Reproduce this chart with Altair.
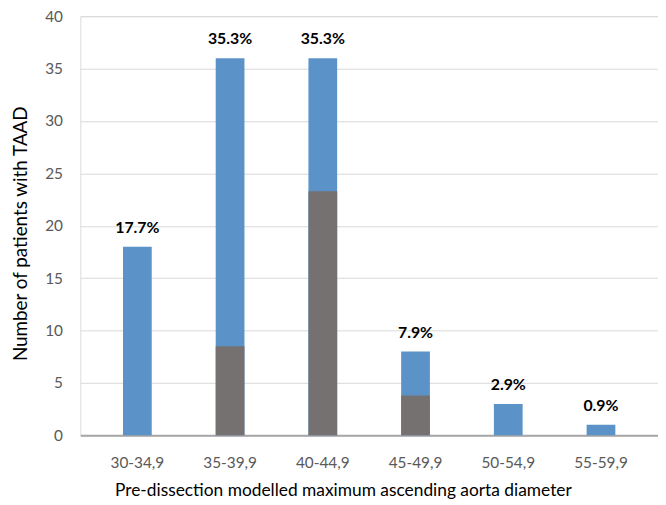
import altair as alt
import pandas as pd

categories = ["30-34,9", "35-39,9", "40-44,9", "45-49,9", "50-54,9", "55-59,9"]
totals = [18, 36, 36, 8, 3, 1]
subset = [0, 8.5, 23.3, 3.8, 0, 0]
labels = ["17.7%", "35.3%", "35.3%", "7.9%", "2.9%", "0.9%"]

df = pd.DataFrame({"cat": categories, "total": totals, "subset": subset, "label": labels})

FONT = "Lato"
xenc = alt.X("cat:N", sort=categories,
             scale=alt.Scale(paddingInner=0.69, paddingOuter=0.46),
             axis=alt.Axis(title="Pre-dissection modelled  maximum ascending aorta diameter",
                           labelAngle=0, labelFontSize=15.5, labelColor="#595959", labelFont=FONT,
                           labelPadding=20, ticks=False, domainColor="#a6a6a6", domainWidth=2,
                           titleFont=FONT, titleFontSize=17.5, titleFontWeight="normal",
                           titleColor="#000000", titlePadding=11, titleX=265))
yscale = alt.Scale(domain=[0, 40])

base = alt.Chart(df)
blue = base.mark_bar(color="#5b93c8").encode(
    x=xenc,
    y=alt.Y("total:Q", scale=yscale,
            axis=alt.Axis(title="Number of patients with TAAD", values=[0, 5, 10, 15, 20, 25, 30, 35, 40],
                          labelFontSize=15.5, labelColor="#595959", labelFont=FONT, labelPadding=18,
                          ticks=False, domain=False, gridColor="#d9d9d9", gridWidth=1,
                          titleFont=FONT, titleFontSize=19, titleFontWeight="normal",
                          titleColor="#000000", titlePadding=14, titleY=219)))
gray = base.mark_bar(color="#767171").encode(x=xenc, y=alt.Y("subset:Q", scale=yscale))
text = base.mark_text(fontWeight="bold", fontSize=16, font=FONT, color="#000000",
                      baseline="bottom", dy=-11).encode(
    x=xenc, y=alt.Y("total:Q", scale=yscale), text="label:N")

chart = alt.layer(blue, gray, text).properties(
    width=583, height=423,
    autosize=alt.AutoSizeParams(type="none"),
    padding={"left": 73, "top": 6, "right": 0, "bottom": 68},
).configure_view(stroke=None).configure(background="white")

chart.save("out.html", embed_options={"renderer": "svg", "actions": False})
